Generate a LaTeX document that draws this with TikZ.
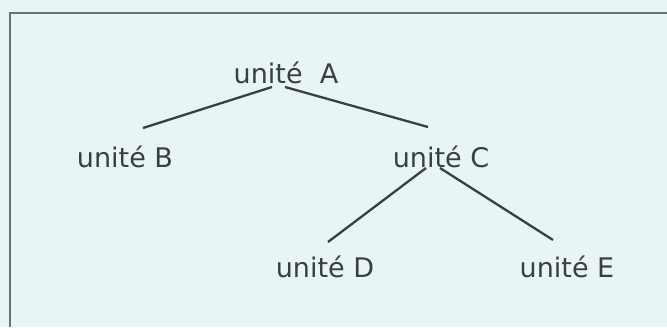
\documentclass[tikz,border=0pt]{standalone}
\usepackage{fontspec}
\setmainfont{DejaVu Sans}
\definecolor{paperblue}{RGB}{232, 245, 246}
\definecolor{inkgrey}{RGB}{60, 62, 64}
\definecolor{framegrey}{RGB}{110, 114, 118}
\usepackage{tikz}
\usetikzlibrary{positioning}

\begin{document}
\begin{tikzpicture}[x=1pt, y=-1pt, every node/.style={font=\fontsize{27}{30}\selectfont, text=inkgrey, inner sep=0pt, anchor=base}]
    \useasboundingbox (0,0) rectangle (667,327);
    \fill [paperblue] (0,0) rectangle (667,327);
    \draw [framegrey, line width=2.5pt] (10,327) |- (667,13);

    \node (A) at (286,83) {unité\ \ A};
    \node (B) at (125,167) {unité B};
    \node (C) at (441,167) {unité C};
    \node (D) at (325,277) {unité D};
    \node (E) at (567,277) {unité E};

    \draw [inkgrey, line width=2.3pt] ([shift={(-14,4)}]A.base) -- ([shift={(18,-39)}]B.base);
    \draw [inkgrey, line width=2.3pt] ([shift={(-1,4)}]A.base) -- ([shift={(-13,-40)}]C.base);
    \draw [inkgrey, line width=2.3pt] ([shift={(-15,1)}]C.base) -- ([shift={(3,-35)}]D.base);
    \draw [inkgrey, line width=2.3pt] ([shift={(-1,1)}]C.base) -- ([shift={(-14,-37)}]E.base);
\end{tikzpicture}
\end{document}
